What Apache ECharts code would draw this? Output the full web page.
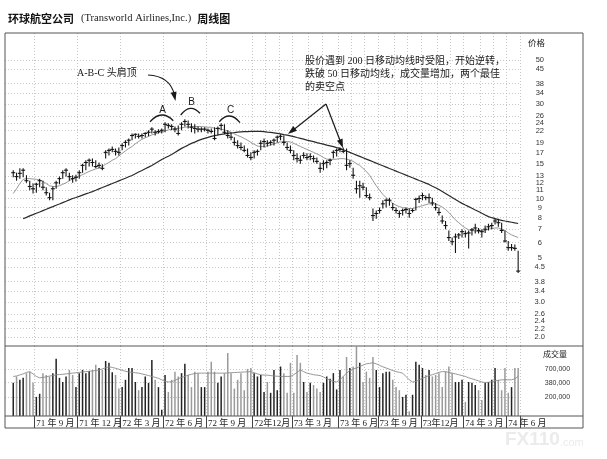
<!DOCTYPE html>
<html><head><meta charset="utf-8">
<script src="https://cdn.jsdelivr.net/npm/echarts@6/dist/echarts.min.js"></script>
<style>html,body{margin:0;padding:0;background:#fff}#c{width:607px;height:459px}</style>
</head><body><div id="c"></div>
<script>
// empty weeks shown before the first plotted bar
const lead = 2;
// weekly high / low / close (USD)
const highs = [13.9,13.5,14.2,14.2,13.1,12.3,11.9,12.0,12.6,12.3,
 11.4,10.7,11.5,12.3,12.9,13.9,14.2,13.5,13.1,13.2,
 13.9,15.0,15.6,15.9,15.9,15.6,15.2,14.9,17.5,17.9,
 18.3,17.9,18.1,19.0,19.7,20.1,21.3,21.3,21.3,21.3,
 21.6,22.1,22.9,22.1,22.4,22.6,24.3,24.0,23.7,23.1,
 23.4,24.3,25.1,24.8,24.0,23.7,23.1,22.9,22.9,22.6,
 22.6,22.9,23.1,24.0,23.7,22.1,21.6,20.4,19.7,19.2,
 18.5,17.9,17.1,17.5,17.7,19.7,20.1,19.7,19.7,20.1,
 20.8,21.1,20.8,19.2,18.5,17.5,16.9,16.5,17.1,16.9,
 16.9,16.5,16.1,15.2,15.6,15.6,15.9,17.5,17.9,18.1,
 18.1,17.9,15.6,14.3,12.3,12.3,12.0,11.4,10.6,8.9,
 8.7,9.0,9.8,10.0,10.1,9.5,9.0,8.7,8.9,9.0,
 8.9,8.9,10.1,10.35,10.7,10.35,10.6,10.1,9.5,9.0,
 8.2,7.7,6.9,6.35,6.65,6.7,7.0,6.9,6.9,7.1,
 7.45,7.1,7.0,7.3,7.45,7.55,7.9,7.9,7.55,6.9,
 6.1,5.9,5.85,5.45];
const lows = [12.8,12.3,12.6,12.8,12.0,11.0,10.6,10.7,11.4,11.0,
 10.35,9.8,9.8,11.2,11.8,12.6,12.9,12.3,12.0,12.2,
 12.6,13.5,13.9,14.5,14.5,14.2,14.2,13.9,15.9,16.5,
 17.1,16.5,16.5,17.5,18.1,18.5,19.7,20.1,20.1,20.1,
 20.4,20.6,21.3,20.8,21.3,21.3,21.6,22.6,22.1,21.6,
 20.8,22.1,23.1,22.6,21.6,21.3,21.6,21.6,21.8,21.3,
 21.3,19.7,20.8,22.1,21.1,20.1,19.7,18.5,17.9,17.5,
 17.1,16.1,15.6,15.9,16.5,17.5,18.1,18.3,18.5,18.5,
 19.2,19.7,18.5,17.5,16.9,15.6,15.2,15.0,15.9,15.6,
 15.6,15.2,15.0,13.5,13.9,14.2,14.7,15.9,16.3,17.1,
 16.9,13.9,14.3,12.6,10.6,10.1,11.0,10.1,9.8,7.7,
 7.9,8.4,8.9,9.0,9.2,8.7,8.4,8.0,8.2,8.4,
 8.0,8.5,8.7,9.5,9.8,9.8,9.5,9.2,8.7,8.2,
 7.45,7.0,6.1,5.8,5.3,6.25,6.35,6.35,5.6,6.5,
 6.65,6.65,6.35,6.7,6.9,7.0,7.4,7.2,6.7,6.0,
 5.45,5.45,5.45,4.2];
const closes = [13.5,12.9,13.4,13.9,12.3,11.5,11.2,11.8,12.3,11.4,
 10.7,10.1,11.2,12.0,12.6,13.5,13.9,12.9,12.6,12.8,
 13.5,14.7,15.2,15.6,15.2,14.5,14.7,14.2,17.1,17.5,
 17.7,17.3,17.1,18.5,19.2,19.7,20.8,21.1,20.6,20.8,
 21.3,21.6,22.4,21.6,21.8,22.1,23.7,23.4,23.1,22.4,
 21.3,23.7,24.5,23.7,22.9,22.6,22.4,22.4,22.4,22.1,
 21.8,20.1,22.6,23.4,21.6,20.8,20.4,19.2,18.5,18.1,
 17.5,16.5,16.1,17.1,17.3,19.0,19.4,19.0,19.2,19.7,
 20.4,20.6,19.2,18.1,17.5,16.5,15.9,15.6,16.5,16.1,
 16.3,15.9,15.4,14.2,15.0,15.2,15.6,17.1,17.5,17.7,
 17.3,14.7,15.0,13.1,11.2,11.6,11.4,10.35,10.1,8.2,
 8.4,8.7,9.4,9.8,9.8,9.0,8.7,8.4,8.7,8.8,
 8.4,8.7,9.9,10.0,10.35,10.1,10.1,9.5,9.0,8.5,
 7.7,7.3,6.35,6.05,6.4,6.55,6.8,6.65,6.7,6.95,
 7.1,6.9,6.8,7.0,7.2,7.3,7.7,7.55,6.9,6.1,
 5.65,5.65,5.6,4.3];
// 200-day (40-week) moving average
const ma200 = [null,null,null,7.9,8.03,8.17,8.29,8.42,8.55,8.69,
 8.82,8.97,9.1,9.24,9.38,9.53,9.68,9.84,10.0,10.12,
 10.25,10.4,10.55,10.69,10.84,11.0,11.19,11.36,11.54,11.72,
 11.9,12.09,12.28,12.47,12.66,12.87,13.07,13.33,13.6,13.86,
 14.14,14.4,14.69,15.03,15.38,15.75,16.05,16.36,16.69,17.09,
 17.5,17.91,18.27,18.61,18.99,19.27,19.6,19.89,20.13,20.36,
 20.6,20.77,20.92,21.08,21.2,21.33,21.46,21.53,21.63,21.7,
 21.76,21.78,21.83,21.83,21.83,21.83,21.76,21.66,21.58,21.46,
 21.33,21.2,21.03,20.89,20.72,20.53,20.32,20.13,19.94,19.73,
 19.55,19.37,19.16,18.98,18.81,18.61,18.44,18.27,18.08,17.91,
 17.64,17.36,17.09,16.83,16.56,16.31,16.06,15.8,15.57,15.33,
 15.09,14.86,14.64,14.41,14.18,13.97,13.75,13.53,13.33,13.12,
 12.92,12.72,12.53,12.33,12.15,11.96,11.78,11.54,11.33,11.1,
 10.85,10.6,10.35,10.11,9.88,9.65,9.45,9.27,9.1,8.92,
 8.75,8.59,8.42,8.26,8.1,8.0,7.91,7.82,7.76,7.7,
 7.65,7.59,7.53,7.48];
// 50-day (10-week) moving average
const ma50 = [10.6,11.2,11.9,12.5,12.6,12.6,12.55,12.5,12.4,12.2,
 11.9,11.6,11.5,11.5,11.6,11.8,12.0,12.3,12.55,12.8,
 13.0,13.2,13.45,13.7,13.9,14.1,14.25,14.5,14.9,15.2,
 15.6,15.9,16.4,16.9,17.4,17.9,18.3,18.9,19.4,19.9,
 20.25,20.6,20.95,21.2,21.45,21.7,21.95,22.2,22.4,22.5,
 22.6,22.75,22.9,23.0,23.1,23.1,23.1,23.1,23.0,22.9,
 22.9,22.6,22.5,22.4,22.2,21.95,21.6,21.2,20.8,20.5,
 20.1,19.7,19.2,18.8,18.4,18.3,18.3,18.4,18.65,18.9,
 19.1,19.3,19.4,19.4,19.3,19.0,18.65,18.3,18.0,17.7,
 17.4,17.1,16.8,16.5,16.1,15.8,15.75,15.75,15.8,15.9,
 15.9,15.8,15.65,15.4,15.0,14.7,14.2,13.7,13.1,12.3,
 11.6,11.0,10.5,10.1,9.8,9.45,9.25,9.1,9.0,8.95,
 8.9,8.9,9.0,9.1,9.2,9.3,9.4,9.4,9.35,9.25,
 9.05,8.8,8.5,8.15,7.8,7.55,7.3,7.1,6.95,6.9,
 6.85,6.8,6.85,6.9,7.0,7.05,7.1,7.1,7.0,6.9,
 6.7,6.55,6.45,6.35];
// weekly volume, thousand shares
const volumeK = [375,500,430,470,580,620,375,200,230,580,
 535,500,580,1100,470,390,500,670,535,310,
 580,670,580,640,670,840,730,670,1000,920,
 600,535,290,310,430,730,730,390,270,310,
 500,375,1050,430,310,112,535,250,430,620,
 500,580,880,535,310,620,580,310,310,620,
 970,620,375,500,580,1430,580,290,430,580,
 270,700,730,580,500,535,250,390,240,670,
 270,780,580,240,920,240,1300,920,390,250,
 375,340,290,250,375,500,450,580,280,670,
 500,1200,730,780,1900,920,390,620,470,1200,
 670,310,580,620,620,430,310,270,200,220,
 105,220,970,840,730,535,670,500,535,580,
 310,620,780,580,390,390,430,160,390,375,
 340,270,175,375,390,430,730,430,270,730,
 240,310,730,730];
// volume moving average, thousand shares
const volumeMaK = [500,510,535,560,600,620,560,500,470,480,
 490,510,520,535,545,550,560,570,580,590,
 600,610,620,630,640,655,665,700,740,770,
 750,720,690,660,630,610,600,590,580,560,
 540,520,500,480,460,430,400,390,395,420,
 450,480,500,530,550,570,580,580,580,580,
 580,580,580,580,580,585,590,595,600,605,
 610,615,620,590,560,540,530,530,520,510,
 505,500,500,500,500,540,600,670,620,580,
 560,540,530,520,490,450,420,400,390,430,
 500,580,650,700,730,780,830,880,900,920,
 880,820,770,730,690,650,620,600,580,500,
 430,390,400,430,460,490,520,540,570,600,
 620,620,600,580,560,540,520,500,470,450,
 430,410,390,380,385,395,410,420,430,430,
 430,430,450,500];
// first week (category index) of each quarter and its label
const quarterStarts = [9,22,35,48,61,75,87,101,113,126,139,152];
const quarterLabels = ['71 年 9 月','71 年 12 月','72 年 3 月','72 年 6 月','72 年 9 月','72年12月','73 年 3 月','73 年 6 月','73 年 9 月','73年12月','74 年 3 月','74 年 6 月'];
// weeks carrying a vertical grid line (quarters, then months)
const gridWeeks = [9,22,35,48,61,75,79,83,87,92,96,101,105,109,113,118,122,126,131,135,139,144,148,152];
const priceTicks = ['50','45','38','34','30','26','24','22','19','17','15','13','12','11','10','9','8','7','6','5','4.5','3.8','3.4','3.0','2.6','2.4','2.2','2.0'];
const volumeTicks = [200,380,700];
const volumeTickLabels = ['200,000','380,000','700,000'];

const weeks = Array.from({length: lead + closes.length}, (_, i) => String(i));
const pad = a => Array(lead).fill(null).concat(a);
const priceVals = priceTicks.map(Number);

const chart = echarts.init(document.getElementById('c'), null, {renderer: 'canvas'});
const dotted = {color: '#b8b8b8', type: [1, 2], width: 0.8};
const serifCJK = "'Liberation Serif','Noto Sans CJK SC',serif";
const sansCJK = "'Noto Sans CJK SC',sans-serif";

function renderBar(params, api) {
  const i = api.value(0);
  const hi = api.coord([i, api.value(1)]);
  const lo = api.coord([i, api.value(2)]);
  const cl = api.coord([i, api.value(3)]);
  const w = 2;
  const st = {stroke: '#151515', lineWidth: 1.1};
  return {type: 'group', children: [
    {type: 'line', shape: {x1: hi[0], y1: hi[1], x2: lo[0], y2: lo[1]}, style: st},
    {type: 'line', shape: {x1: cl[0] - w, y1: cl[1], x2: cl[0] + w, y2: cl[1]}, style: st}
  ]};
}

function arrowHead(tip, from, len, half) {
  const dx = tip[0] - from[0], dy = tip[1] - from[1];
  const d = Math.hypot(dx, dy), ux = dx / d, uy = dy / d;
  const bx = tip[0] - ux * len, by = tip[1] - uy * len;
  return [[tip[0], tip[1]], [bx - uy * half, by + ux * half], [bx + uy * half, by - ux * half]];
}

const ink = '#1a1a1a';
const annoStart = [326, 104];
const tip1 = [288, 134], tip2 = [343, 148];

chart.setOption({
  animation: false,
  backgroundColor: '#fff',
  title: {
    left: 3, top: 8,
    text: '{a|环球航空公司}{b|(Transworld Airlines,Inc.)}{a|周线图}',
    textStyle: {fontWeight: 'normal', rich: {
      a: {fontFamily: sansCJK, fontWeight: 'bold', fontSize: 11, color: '#111'},
      b: {fontFamily: "'Liberation Serif',serif", fontWeight: 'normal', fontSize: 10.5, color: '#222', padding: [0, 6, 0, 7]}
    }}
  },
  grid: [
    {left: 5, top: 33, width: 514.8, height: 313, show: false},
    {left: 5, top: 346, width: 514.8, height: 70, show: false}
  ],
  xAxis: [
    {type: 'category', gridIndex: 0, data: weeks, boundaryGap: true,
     axisLine: {show: false}, axisTick: {show: false}, axisLabel: {show: false},
     splitLine: {show: true, interval: (i) => gridWeeks.includes(i), lineStyle: dotted}},
    {type: 'category', gridIndex: 1, data: weeks, boundaryGap: true,
     axisLine: {show: false},
     axisTick: {show: true, interval: (i) => quarterStarts.includes(i), length: 12, lineStyle: {color: '#444', width: 1}},
     axisLabel: {show: true, interval: (i) => quarterStarts.includes(i),
       formatter: (v) => quarterLabels[quarterStarts.indexOf(Number(v))] || '',
       align: 'left', margin: 3, fontSize: 9, fontFamily: serifCJK, color: '#222'},
     splitLine: {show: true, interval: (i) => gridWeeks.includes(i), lineStyle: dotted}}
  ],
  yAxis: [
    {type: 'log', logBase: 10, gridIndex: 0, position: 'right', min: 1.8, max: 68.5,
     axisLine: {show: false}, axisTick: {show: false, customValues: priceVals},
     axisLabel: {customValues: priceVals, margin: 20, align: 'center', fontSize: 7.5,
       fontFamily: "'Liberation Sans',sans-serif", color: '#333',
       formatter: (v) => priceTicks[priceVals.findIndex(p => Math.abs(p - v) < 1e-6)] || ''},
     splitLine: {show: true, lineStyle: dotted}},
    {type: 'log', logBase: 10, gridIndex: 1, position: 'right', min: 85, max: 1955,
     axisLine: {show: false}, axisTick: {show: false, customValues: volumeTicks},
     axisLabel: {customValues: volumeTicks, margin: 25, align: 'left', fontSize: 7,
       fontFamily: "'Liberation Sans Narrow','Liberation Sans',sans-serif", color: '#333',
       formatter: (v) => volumeTickLabels[volumeTicks.indexOf(v)] || ''},
     splitLine: {show: true, lineStyle: dotted}}
  ],
  series: [
    {name: '200日均线', type: 'line', xAxisIndex: 0, yAxisIndex: 0, data: pad(ma200),
     symbol: 'none', lineStyle: {color: '#2a2a2a', width: 1.2}, z: 2},
    {name: '50日均线', type: 'line', xAxisIndex: 0, yAxisIndex: 0, data: pad(ma50),
     symbol: 'none', lineStyle: {color: '#8c8c8c', width: 0.9}, z: 2},
    {name: '周线', type: 'custom', xAxisIndex: 0, yAxisIndex: 0, renderItem: renderBar,
     encode: {x: 0, y: [1, 2, 3]}, z: 3,
     data: closes.map((c, k) => [k + lead, highs[k], lows[k], c])},
    {name: '成交量', type: 'bar', xAxisIndex: 1, yAxisIndex: 1, barWidth: 1.5, clip: true,
     data: pad(volumeK.map((v, k) => ({value: v,
       itemStyle: {color: (k > 0 && closes[k] < closes[k - 1]) ? '#9a9a9a' : '#232323'}})))},
    {name: '成交量均线', type: 'line', xAxisIndex: 1, yAxisIndex: 1, data: pad(volumeMaK),
     symbol: 'none', lineStyle: {color: '#8c8c8c', width: 0.9}, z: 3}
  ],
  graphic: [
    {type: 'rect', shape: {x: 5, y: 33, width: 578, height: 395}, style: {fill: 'none', stroke: '#555', lineWidth: 1}, z: 10, silent: true},
    {type: 'line', shape: {x1: 5, y1: 346, x2: 583, y2: 346}, style: {stroke: '#555', lineWidth: 1}, z: 10},
    {type: 'line', shape: {x1: 5, y1: 416, x2: 583, y2: 416}, style: {stroke: '#555', lineWidth: 1}, z: 10},
    {type: 'text', left: 528, top: 39, style: {text: '价格', fontSize: 8.5, fontFamily: sansCJK, fill: '#222'}, z: 10},
    {type: 'text', left: 543, top: 350, style: {text: '成交量', fontSize: 8, fontFamily: sansCJK, fill: '#222'}, z: 10},
    // annotations
    {type: 'text', x: 77, y: 73.5, style: {text: 'A-B-C 头肩顶', fontSize: 10, fontFamily: serifCJK, fill: ink, textVerticalAlign: 'middle'}, z: 10},
    {type: 'bezierCurve', shape: {x1: 148, y1: 75, cpx1: 170, cpy1: 76, x2: 174.5, y2: 95}, style: {stroke: ink, lineWidth: 1.2, fill: 'none'}, z: 10},
    {type: 'polygon', shape: {points: arrowHead([175.5, 101], [170, 76], 9, 3)}, style: {fill: ink}, z: 10},
    {type: 'text', x: 162.7, y: 110, style: {text: 'A', fontSize: 10, fontFamily: "'Liberation Sans',sans-serif", fill: ink, textAlign: 'center', textVerticalAlign: 'middle'}, z: 10},
    {type: 'text', x: 191.7, y: 102.7, style: {text: 'B', fontSize: 10, fontFamily: "'Liberation Sans',sans-serif", fill: ink, textAlign: 'center', textVerticalAlign: 'middle'}, z: 10},
    {type: 'text', x: 230.7, y: 110.7, style: {text: 'C', fontSize: 10, fontFamily: "'Liberation Sans',sans-serif", fill: ink, textAlign: 'center', textVerticalAlign: 'middle'}, z: 10},
    {type: 'bezierCurve', shape: {x1: 150, y1: 121.7, cpx1: 161.7, cpy1: 108.8, x2: 173.3, y2: 120.7}, style: {stroke: ink, lineWidth: 1.3, fill: 'none'}, z: 10},
    {type: 'bezierCurve', shape: {x1: 180.7, y1: 115, cpx1: 190.3, cpy1: 102.5, x2: 200, y2: 113.3}, style: {stroke: ink, lineWidth: 1.3, fill: 'none'}, z: 10},
    {type: 'bezierCurve', shape: {x1: 219.3, y1: 121.7, cpx1: 229.7, cpy1: 109.8, x2: 240, y2: 122.7}, style: {stroke: ink, lineWidth: 1.3, fill: 'none'}, z: 10},
    {type: 'text', x: 305, y: 61, style: {text: '股价遇到 200 日移动均线时受阻，开始逆转，', fontSize: 10, fontFamily: serifCJK, fill: ink, textVerticalAlign: 'middle'}, z: 10},
    {type: 'text', x: 305, y: 74, style: {text: '跌破 50 日移动均线，成交量增加，两个最佳', fontSize: 10, fontFamily: serifCJK, fill: ink, textVerticalAlign: 'middle'}, z: 10},
    {type: 'text', x: 305, y: 87, style: {text: '的卖空点', fontSize: 10, fontFamily: serifCJK, fill: ink, textVerticalAlign: 'middle'}, z: 10},
    {type: 'line', shape: {x1: annoStart[0], y1: annoStart[1], x2: 292, y2: 131}, style: {stroke: ink, lineWidth: 1.2}, z: 10},
    {type: 'polygon', shape: {points: arrowHead(tip1, annoStart, 9, 3)}, style: {fill: ink}, z: 10},
    {type: 'line', shape: {x1: annoStart[0], y1: annoStart[1], x2: 341, y2: 143}, style: {stroke: ink, lineWidth: 1.2}, z: 10},
    {type: 'polygon', shape: {points: arrowHead(tip2, annoStart, 9, 3)}, style: {fill: ink}, z: 10},
    // watermark
    {type: 'text', x: 505, y: 440, style: {text: '{a|FX110}{b|.com}', textVerticalAlign: 'middle',
      rich: {a: {fontSize: 19, fontWeight: 'bold', fontFamily: "'Liberation Sans',sans-serif", fill: '#ebebeb', color: '#ebebeb'},
             b: {fontSize: 11, fontFamily: "'Liberation Sans',sans-serif", fill: '#ebebeb', color: '#ebebeb', padding: [6, 0, 0, 0]}}}, z: 1}
  ]
});
</script>
</body></html>
